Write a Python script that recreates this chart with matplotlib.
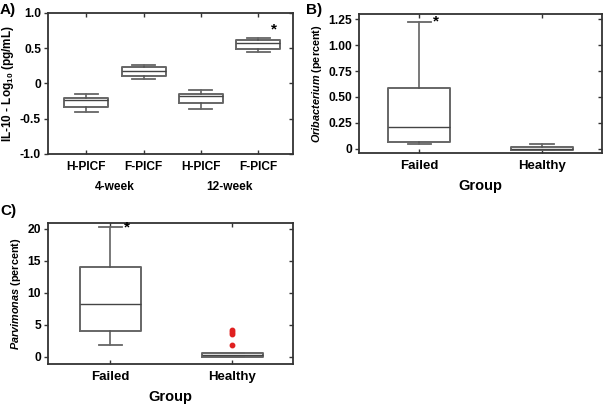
import matplotlib
matplotlib.use("Agg")
import matplotlib.pyplot as plt
import matplotlib.transforms as mtransforms
from matplotlib.font_manager import FontProperties

plt.rcParams['font.family'] = ['Liberation Sans', 'DejaVu Sans']
plt.rcParams['font.weight'] = 'bold'
plt.rcParams['axes.labelweight'] = 'bold'
plt.rcParams['mathtext.fontset'] = 'custom'
plt.rcParams['mathtext.rm'] = 'Liberation Sans:bold'
plt.rcParams['mathtext.bf'] = 'Liberation Sans:bold'
plt.rcParams['mathtext.it'] = 'Liberation Sans:italic:bold'

# panel A: IL-10 (log10 pg/mL)
a_labels = ["H-PICF", "F-PICF", "H-PICF", "F-PICF"]
a_groups = ["4-week", "12-week"]
a_med = [-0.24, 0.18, -0.18, 0.57]
a_q1 = [-0.34, 0.10, -0.28, 0.49]
a_q3 = [-0.20, 0.23, -0.15, 0.62]
a_lo = [-0.41, 0.06, -0.36, 0.45]
a_hi = [-0.15, 0.26, -0.09, 0.64]
a_yticks = [-1.0, -0.5, 0, 0.5, 1.0]
a_yticklabels = ["-1.0", "-0.5", "0", "0.5", "1.0"]

# panel B: Oribacterium (percent)
b_labels = ["Failed", "Healthy"]
b_med = [0.215, 0.003]
b_q1 = [0.068, -0.013]
b_q3 = [0.585, 0.019]
b_lo = [0.048, -0.013]
b_hi = [1.225, 0.048]
b_yticks = [0, 0.25, 0.5, 0.75, 1.0, 1.25]
b_yticklabels = ["0", "0.25", "0.50", "0.75", "1.00", "1.25"]

# panel C: Parvimonas (percent)
c_labels = ["Failed", "Healthy"]
c_med = [8.3, 0.2]
c_q1 = [3.96, -0.08]
c_q3 = [14.0, 0.52]
c_lo = [1.8, -0.08]
c_hi = [20.25, 0.52]
c_fliers = [[], [4.2, 3.8, 3.5, 1.9]]
c_yticks = [0, 5, 10, 15, 20]
c_yticklabels = ["0", "5", "10", "15", "20"]

box_c = '#666666'
spine_c = '#333333'


def fp(size):
    return FontProperties(family='Liberation Sans', weight='bold', size=size)


def stats(med, q1, q3, lo, hi, fl=None):
    out = []
    for i in range(len(med)):
        out.append(dict(med=med[i], q1=q1[i], q3=q3[i], whislo=lo[i], whishi=hi[i],
                        fliers=(fl[i] if fl else [])))
    return out


def draw(ax, st, width, capw):
    pos = list(range(1, len(st) + 1))
    ax.bxp(st, positions=pos, widths=width, capwidths=capw, showfliers=True,
           boxprops=dict(color=box_c, linewidth=1.4),
           medianprops=dict(color='#444444', linewidth=1.0),
           whiskerprops=dict(color='#555555', linewidth=1.1),
           capprops=dict(color='#666666', linewidth=1.3),
           flierprops=dict(marker='o', markersize=3.2, markerfacecolor='#e02020',
                           markeredgecolor='#e02020'))
    for s in ax.spines.values():
        s.set_color(spine_c)
        s.set_linewidth(1.3)
    ax.tick_params(axis='y', direction='out', length=3, width=1, colors=spine_c,
                   labelcolor='black', pad=2)
    ax.tick_params(axis='x', direction='in', length=3, width=1, top=True, colors=spine_c,
                   labelcolor='black', pad=5)
    ax.tick_params(axis='y', which='both', right=True)


def finish(ax, xlabels, xsize, yticks, ylabels):
    ax.set_xticks(range(1, len(xlabels) + 1))
    ax.set_xticklabels(xlabels)
    ax.set_yticks(yticks)
    ax.set_yticklabels(ylabels)
    for lab in ax.get_xticklabels():
        lab.set_fontproperties(fp(xsize))
    for lab in ax.get_yticklabels():
        lab.set_fontproperties(fp(8.7))
    # right ticks go inward
    for t in ax.yaxis.get_major_ticks():
        t.tick2line.set_marker(matplotlib.lines.TICKLEFT)


fig = plt.figure(figsize=(6.03, 4.05), dpi=100)

# ---- A
axA = fig.add_axes([0.0796, 0.620, 0.4064, 0.348])
draw(axA, stats(a_med, a_q1, a_q3, a_lo, a_hi), 0.77, 0.4)
axA.set_xlim(0.33, 4.61)
axA.set_ylim(-1.0, 1.0)
finish(axA, a_labels, 8.6, a_yticks, a_yticklabels)
axA.set_ylabel(r"IL-10 - Log$_{10}$ (pg/mL)", fontsize=8.5, labelpad=3)
trA = mtransforms.blended_transform_factory(axA.transData, axA.transAxes)
axA.text(1.5, -0.235, a_groups[0], transform=trA, ha='center', va='center',
         fontproperties=fp(8.6))
axA.text(3.5, -0.235, a_groups[1], transform=trA, ha='center', va='center',
         fontproperties=fp(8.6))
axA.text(4.27, 0.66, "*", ha='center', va='bottom', fontsize=11)

# ---- B
axB = fig.add_axes([0.5954, 0.6222, 0.4030, 0.3432])
draw(axB, stats(b_med, b_q1, b_q3, b_lo, b_hi), 0.5, 0.19)
axB.set_xlim(0.51, 2.49)
axB.set_ylim(-0.04, 1.30)
finish(axB, b_labels, 9.5, b_yticks, b_yticklabels)
axB.set_xlabel("Group", fontsize=10.5, labelpad=5)
axB.set_ylabel(r"$Oribacterium$ (percent)", fontsize=7.8, labelpad=3)
axB.text(1.14, 1.225, "*", ha='center', va='center', fontsize=11)

# ---- C
axC = fig.add_axes([0.0796, 0.1012, 0.4064, 0.3482])
draw(axC, stats(c_med, c_q1, c_q3, c_lo, c_hi, c_fliers), 0.5, 0.19)
axC.set_xlim(0.49, 2.5)
axC.set_ylim(-1.15, 20.9)
finish(axC, c_labels, 9.5, c_yticks, c_yticklabels)
axC.set_xlabel("Group", fontsize=10.5, labelpad=5)
axC.set_ylabel(r"$Parvimonas$ (percent)", fontsize=7.8, labelpad=3)
axC.text(1.14, 20.25, "*", ha='center', va='center', fontsize=11)

# panel letters
fig.text(0.0, 0.993, "A)", fontsize=11, fontweight='bold', va='top', ha='left')
fig.text(0.508, 0.993, "B)", fontsize=11, fontweight='bold', va='top', ha='left')
fig.text(0.0, 0.497, "C)", fontsize=11, fontweight='bold', va='top', ha='left')

fig.savefig("out.png", dpi=100)
